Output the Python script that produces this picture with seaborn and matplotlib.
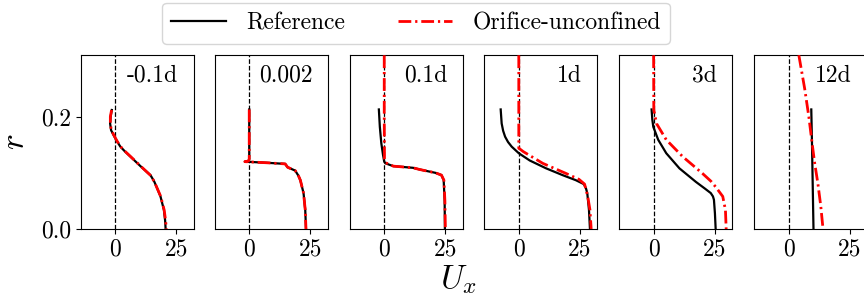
import matplotlib
matplotlib.use('Agg')
import matplotlib.pyplot as plt
import seaborn as sns
import numpy as np

plt.rcParams['font.family'] = 'cmr10'
plt.rcParams['mathtext.fontset'] = 'cm'
plt.rcParams['axes.formatter.use_mathtext'] = True

panel_labels = ['-0.1d', '0.002', '0.1d', '1d', '3d', '12d']
x_ticks = [0, 25]
y_ticks = [0.0, 0.2]
y_tick_labels = ['0.0', '0.2']

# Reference profiles (r, Ux)
ref_r_1 = [0.212, 0.200, 0.188, 0.176, 0.1675, 0.157, 0.1467, 0.138, 0.129, 0.112, 0.096, 0.085, 0.075, 0.058, 0.034, 0.015, 0.0]
ref_u_1 = [-1.4, -1.9, -2.1, -1.7, -0.7, 0.6, 2.1, 4.0, 6.2, 10.3, 14.4, 15.9, 16.9, 18.5, 19.9, 20.4, 20.6]
ref_r_2 = [0.213, 0.17, 0.125, 0.121, 0.120, 0.118, 0.116, 0.110, 0.104, 0.095, 0.087, 0.064, 0.034, 0.0]
ref_u_2 = [0.0, 0.0, 0.0, -0.3, -1.8, 7.2, 14.7, 15.7, 18.8, 20.1, 20.9, 22.2, 22.9, 23.2]
ref_r_3 = [0.213, 0.182, 0.153, 0.132, 0.120, 0.117, 0.112, 0.109, 0.106, 0.100, 0.096, 0.087, 0.05, 0.0]
ref_u_3 = [-2.2, -1.8, -1.2, -0.5, 0.0, 0.5, 3.7, 11.8, 14.5, 21.0, 23.4, 24.3, 24.7, 24.8]
ref_r_4 = [0.213, 0.188, 0.175, 0.1645, 0.155, 0.1467, 0.135, 0.122, 0.108, 0.096, 0.087, 0.080, 0.072, 0.064, 0.034, 0.0]
ref_u_4 = [-7.3, -6.9, -6.3, -5.5, -4.3, -2.8, 0.1, 4.6, 11.3, 18.0, 23.4, 26.7, 27.6, 28.1, 28.8, 29.2]
ref_r_5 = [0.213, 0.195, 0.182, 0.159, 0.135, 0.108, 0.084, 0.072, 0.064, 0.058, 0.052, 0.028, 0.0]
ref_u_5 = [-0.8, -0.5, -0.1, 1.9, 5.2, 10.6, 17.3, 21.0, 23.4, 24.3, 24.7, 25.1, 25.4]
ref_r_6 = [0.213, 0.15, 0.05, 0.0]
ref_u_6 = [9.3, 9.6, 10.0, 10.2]

# Orifice-unconfined profiles (r, Ux)
ori_r_1 = [0.212, 0.200, 0.188, 0.176, 0.1675, 0.157, 0.1467, 0.138, 0.129, 0.112, 0.096, 0.085, 0.075, 0.058, 0.034, 0.015, 0.0]
ori_u_1 = [-1.5, -2.0, -2.0, -1.6, -0.6, 0.7, 2.2, 4.1, 6.3, 10.4, 14.3, 15.9, 16.9, 18.6, 20.0, 20.6, 20.9]
ori_r_2 = [0.213, 0.17, 0.125, 0.121, 0.120, 0.118, 0.116, 0.110, 0.104, 0.095, 0.087, 0.064, 0.034, 0.0]
ori_u_2 = [0.0, 0.0, 0.0, -0.3, -1.8, 7.2, 14.7, 15.7, 18.8, 20.1, 20.9, 22.2, 22.9, 23.2]
ori_r_3 = [0.35, 0.2, 0.125, 0.118, 0.112, 0.109, 0.106, 0.100, 0.096, 0.087, 0.05, 0.0]
ori_u_3 = [0.0, 0.0, 0.1, 0.6, 3.7, 11.8, 14.5, 21.0, 23.4, 24.4, 24.8, 25.0]
ori_r_4 = [0.35, 0.2, 0.144, 0.138, 0.117, 0.099, 0.0885, 0.080, 0.058, 0.034, 0.0]
ori_u_4 = [0.1, 0.1, 0.1, 1.9, 9.9, 19.4, 24.7, 27.0, 28.3, 29.2, 29.7]
ori_r_5 = [0.35, 0.213, 0.188, 0.159, 0.129, 0.099, 0.085, 0.075, 0.058, 0.034, 0.0]
ori_u_5 = [0.0, 0.1, 1.2, 5.2, 11.9, 20.0, 23.5, 25.4, 28.3, 29.4, 29.7]
ori_r_6 = [0.35, 0.31, 0.25, 0.2, 0.1645, 0.12, 0.081, 0.04, 0.0]
ori_u_6 = [3.3, 4.2, 6.6, 8.3, 9.3, 10.6, 12.0, 13.2, 14.1]

ref_r = [ref_r_1, ref_r_2, ref_r_3, ref_r_4, ref_r_5, ref_r_6]
ref_u = [ref_u_1, ref_u_2, ref_u_3, ref_u_4, ref_u_5, ref_u_6]
ori_r = [ori_r_1, ori_r_2, ori_r_3, ori_r_4, ori_r_5, ori_r_6]
ori_u = [ori_u_1, ori_u_2, ori_u_3, ori_u_4, ori_u_5, ori_u_6]

W, H = 864, 304
fig = plt.figure(figsize=(W / 100, H / 100), dpi=100)
lefts = [81, 215, 350, 484.3, 619.3, 754.3]
axw, axb, axh = 112.5, 75, 174

FS = 17
dashdot = (0, (4.6, 1.4, 0.8, 1.4))
for i in range(6):
    ax = fig.add_axes([lefts[i] / W, axb / H, axw / W, axh / H])
    ax.axvline(0, color='k', linestyle='--', linewidth=0.9, zorder=1)
    sns.lineplot(x=ref_u[i], y=ref_r[i], sort=False, estimator=None, ax=ax,
                 color='black', linewidth=1.6, label='Reference', zorder=2)
    sns.lineplot(x=ori_u[i], y=ori_r[i], sort=False, estimator=None, ax=ax,
                 color='red', linewidth=2.0, linestyle=dashdot,
                 label='Orifice-unconfined', zorder=3)
    ax.set_xlim(-14, 32)
    ax.set_ylim(0, 0.31)
    ax.set_xticks(x_ticks)
    ax.set_xticklabels([str(t) for t in x_ticks], fontsize=FS)
    if i == 0:
        ax.set_yticks(y_ticks)
        ax.set_yticklabels(y_tick_labels, fontsize=FS)
        ax.set_ylabel('$r$', fontsize=24, labelpad=8)
    else:
        ax.set_yticks([])
    ax.set_xlabel('')
    ax.text(0.865, 0.847, panel_labels[i], transform=ax.transAxes,
            ha='right', va='baseline', fontsize=FS)
    handles, labs = ax.get_legend_handles_labels()
    if ax.get_legend() is not None:
        ax.get_legend().remove()

fig.legend(handles, labs, loc='upper center', bbox_to_anchor=(0.4815, 1.03), ncol=2,
           fontsize=FS, frameon=True, handlelength=2.3, columnspacing=2.25,
           handletextpad=0.85)
fig.text(458.5 / W, 1 - 280 / H, '$U_x$', ha='center', va='center', fontsize=24)

fig.savefig('out.png', dpi=100)
